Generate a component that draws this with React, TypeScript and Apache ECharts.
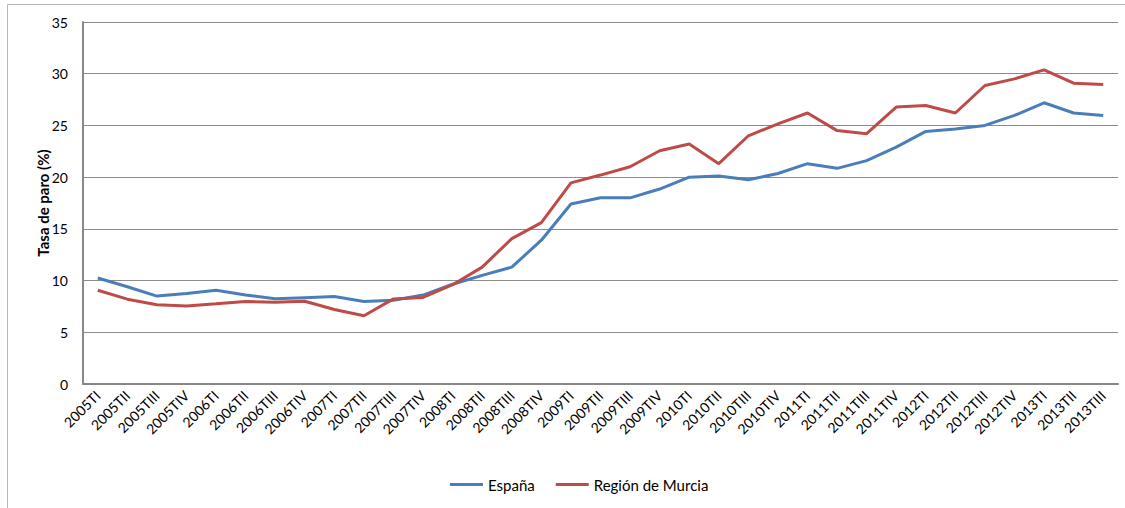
import React, { useEffect, useRef } from "react";
import * as echarts from "echarts";

const categories = [
  "2005TI", "2005TII", "2005TIII", "2005TIV",
  "2006TI", "2006TII", "2006TIII", "2006TIV",
  "2007TI", "2007TII", "2007TIII", "2007TIV",
  "2008TI", "2008TII", "2008TIII", "2008TIV",
  "2009TI", "2009TII", "2009TIII", "2009TIV",
  "2010TI", "2010TII", "2010TIII", "2010TIV",
  "2011TI", "2011TII", "2011TIII", "2011TIV",
  "2012TI", "2012TII", "2012TIII", "2012TIV",
  "2013TI", "2013TII", "2013TIII",
];

const espana = [
  10.25, 9.4, 8.5, 8.75,
  9.07, 8.6, 8.25, 8.35,
  8.45, 7.98, 8.1, 8.6,
  9.65, 10.5, 11.3, 13.9,
  17.4, 18.0, 18.0, 18.85,
  20.0, 20.1, 19.75, 20.35,
  21.3, 20.85, 21.6, 22.9,
  24.42, 24.65, 25.0, 25.97,
  27.19, 26.2, 25.97,
];

const murcia = [
  9.07, 8.2, 7.66, 7.53,
  7.75, 7.98, 7.9, 8.0,
  7.2, 6.6, 8.23, 8.37,
  9.6, 11.3, 14.06, 15.6,
  19.45, 20.2, 21.0, 22.55,
  23.2, 21.3, 24.0, 25.15,
  26.2, 24.5, 24.2, 26.77,
  26.93, 26.2, 28.86, 29.5,
  30.37, 29.08, 28.96,
];

const FONT = "Lato, 'Open Sans', sans-serif";

export default function App() {
  const ref = useRef<HTMLDivElement>(null);
  useEffect(() => {
    if (!ref.current) return;
    const chart = echarts.init(ref.current, undefined, { renderer: "svg" });
    chart.setOption({
      animation: false,
      backgroundColor: "#ffffff",
      textStyle: { fontFamily: FONT },
      graphic: [
        {
          type: "rect",
          shape: { x: 7.5, y: 4.5, width: 1140, height: 520 },
          style: { fill: "none", stroke: "#b8b8b8", lineWidth: 1 },
          silent: true,
          z: -1,
        },
      ],
      grid: { left: 83, right: 7, top: 22, bottom: 124, containLabel: false },
      legend: {
        bottom: 11,
        left: 445,
        itemWidth: 33,
        itemHeight: 3,
        itemGap: 21,
        icon: "rect",
        textStyle: { fontFamily: FONT, fontSize: 15, color: "#000" },
        data: ["España", "Región de Murcia"],
      },
      xAxis: {
        type: "category",
        data: categories,
        boundaryGap: true,
        axisLine: { lineStyle: { color: "#878787", width: 2 } },
        axisTick: { show: false },
        axisLabel: {
          rotate: 45,
          interval: 0,
          margin: 9,
          fontFamily: FONT,
          fontSize: 14,
          color: "#000",
        },
      },
      yAxis: {
        type: "value",
        min: 0,
        max: 35,
        interval: 5,
        name: "Tasa de paro (%)",
        nameLocation: "middle",
        nameGap: 33,
        nameMoveOverlap: false,
        nameTextStyle: { fontFamily: FONT, fontSize: 15, fontWeight: "bold", color: "#000" },
        axisLine: { show: true, lineStyle: { color: "#878787", width: 2 } },
        axisTick: { show: false },
        axisLabel: { fontFamily: FONT, fontSize: 14, color: "#000", margin: 15 },
        splitLine: { lineStyle: { color: "#8c8c8c", width: 1 } },
      },
      series: [
        {
          name: "España",
          type: "line",
          data: espana,
          symbol: "none",
          lineStyle: { color: "#4a7ebb", width: 3 },
          itemStyle: { color: "#4a7ebb" },
        },
        {
          name: "Región de Murcia",
          type: "line",
          data: murcia,
          symbol: "none",
          lineStyle: { color: "#be4b48", width: 3 },
          itemStyle: { color: "#be4b48" },
        },
      ],
    });
    return () => chart.dispose();
  }, []);
  return (
    <div
      ref={ref}
      style={{ position: "fixed", left: 0, top: 0, width: 1125, height: 508 }}
    />
  );
}
